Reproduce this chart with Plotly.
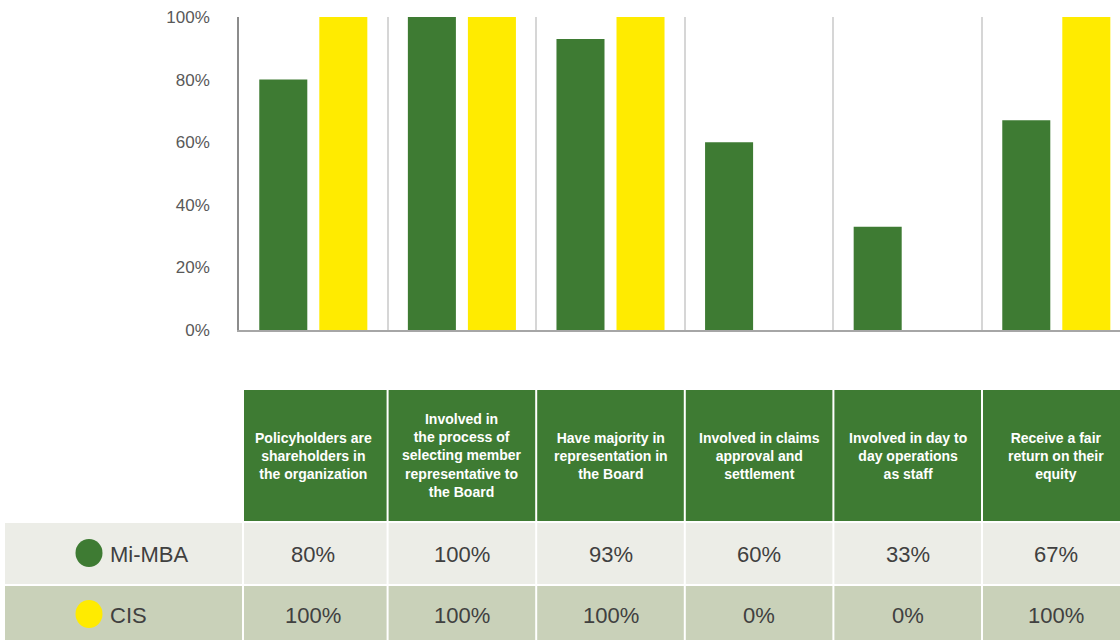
import plotly.graph_objects as go

# ---------------- data ----------------
categories = [
    "Policyholders are<br>shareholders in<br>the organization",
    "Involved in<br>the process of<br>selecting member<br>representative to<br>the Board",
    "Have majority in<br>representation in<br>the Board",
    "Involved in claims<br>approval and<br>settlement",
    "Involved in day to<br>day operations<br>as staff",
    "Receive a fair<br>return on their<br>equity",
]
series_names = ["Mi-MBA", "CIS"]
mi_mba = [80, 100, 93, 60, 33, 67]
cis = [100, 100, 100, 0, 0, 100]
y_ticks = [0, 20, 40, 60, 80, 100]
y_tick_labels = ["0%", "20%", "40%", "60%", "80%", "100%"]

# ---------------- style / layout constants ----------------
GREEN = "#3E7B33"
YELLOW = "#FFEB00"
ROW_BG = ["#ECEDE7", "#C9D1B9"]
TEXT = "#404040"
FONT = "Liberation Sans"
W, H = 1120, 640
PLOT_L, PLOT_T, PLOT_B = 239, 17, 330
CAT_PX = 148.6


def py(y):
    return (PLOT_B - y) / (PLOT_B - PLOT_T)


def px(x):
    return (x - PLOT_L) / (W - PLOT_L)


fig = go.Figure()
series = [mi_mba, cis]
colors = [GREEN, YELLOW]
for name, vals, col in zip(series_names, series, colors):
    fig.add_bar(x=categories, y=vals, name=name, marker_color=col,
                marker_line_width=0, showlegend=False)

x_end = -0.5 + (W - PLOT_L) / CAT_PX
g = 1.0 / CAT_PX

shapes = []
annotations = []

# header row of table
hdr_top, hdr_bot = 390, 521
row_bounds = [(523, 584), (586, 650)]
row_text_y = [554, 615]
for i, cat in enumerate(categories):
    x0 = i - 0.5 + (5 * g if i == 0 else g)
    x1 = i + 0.5 - g
    shapes.append(dict(type="rect", xref="x", yref="paper", x0=x0, x1=x1,
                       y0=py(hdr_bot), y1=py(hdr_top), fillcolor=GREEN,
                       line_width=0, layer="above"))
    annotations.append(dict(x=i, y=py((hdr_top + hdr_bot) / 2), xref="x", yref="paper",
                            text="<b>" + cat + "</b>", showarrow=False,
                            xanchor="center", yanchor="middle", align="center",
                            font=dict(family=FONT, size=14, color="white")))
    for r, (vals, (t, b)) in enumerate(zip(series, row_bounds)):
        shapes.append(dict(type="rect", xref="x", yref="paper", x0=x0, x1=x1,
                           y0=py(b), y1=py(t), fillcolor=ROW_BG[r],
                           line_width=0, layer="above"))
        annotations.append(dict(x=i, y=py(row_text_y[r]), xref="x", yref="paper",
                                text=f"{vals[i]}%", showarrow=False,
                                xanchor="center", yanchor="middle",
                                font=dict(family=FONT, size=22, color=TEXT)))

# label column
for r, ((t, b), name, col) in enumerate(zip(row_bounds, series_names, colors)):
    shapes.append(dict(type="rect", xref="paper", yref="paper", x0=px(5), x1=px(242),
                       y0=py(b), y1=py(t), fillcolor=ROW_BG[r], line_width=0,
                       layer="above"))
    shapes.append(dict(type="circle", xref="paper", yref="paper",
                       xsizemode="pixel", ysizemode="pixel",
                       xanchor=px(89), yanchor=py(row_text_y[r] - 1),
                       x0=-13.5, x1=13.5, y0=-14, y1=14,
                       fillcolor=col, line_width=0, layer="above"))
    annotations.append(dict(x=px(108), y=py(row_text_y[r]), xref="paper", yref="paper",
                            text=name, showarrow=False, xanchor="left", yanchor="middle",
                            font=dict(family=FONT, size=22, color=TEXT)))

fig.update_layout(
    width=W, height=H,
    margin=dict(l=PLOT_L, r=0, t=PLOT_T, b=H - PLOT_B, pad=0),
    paper_bgcolor="white", plot_bgcolor="white",
    barmode="group", bargap=0.192, bargroupgap=0.2,
    font=dict(family=FONT, color=TEXT),
    shapes=shapes, annotations=annotations,
)
fig.update_xaxes(range=[-0.5, x_end], showticklabels=False, ticks="",
                 tickson="boundaries", showgrid=True, gridcolor="#D6D6D6", gridwidth=1.5,
                 showline=True, linecolor="#A6A6A6", linewidth=2, zeroline=False)
fig.update_yaxes(range=[0, 100], tickvals=y_ticks, ticktext=y_tick_labels,
                 tickfont=dict(family=FONT, size=17, color="#595959"),
                 ticks="outside", ticklen=24, tickcolor="rgba(0,0,0,0)",
                 ticklabeloverflow="allow",
                 showgrid=False, zeroline=False,
                 showline=True, linecolor="#8C8C8C", linewidth=1.5)

fig.write_html("out.html",
               config={"displayModeBar": False},
               post_script="document.body.style.margin='0px';"
                           "document.body.style.overflow='hidden';")
